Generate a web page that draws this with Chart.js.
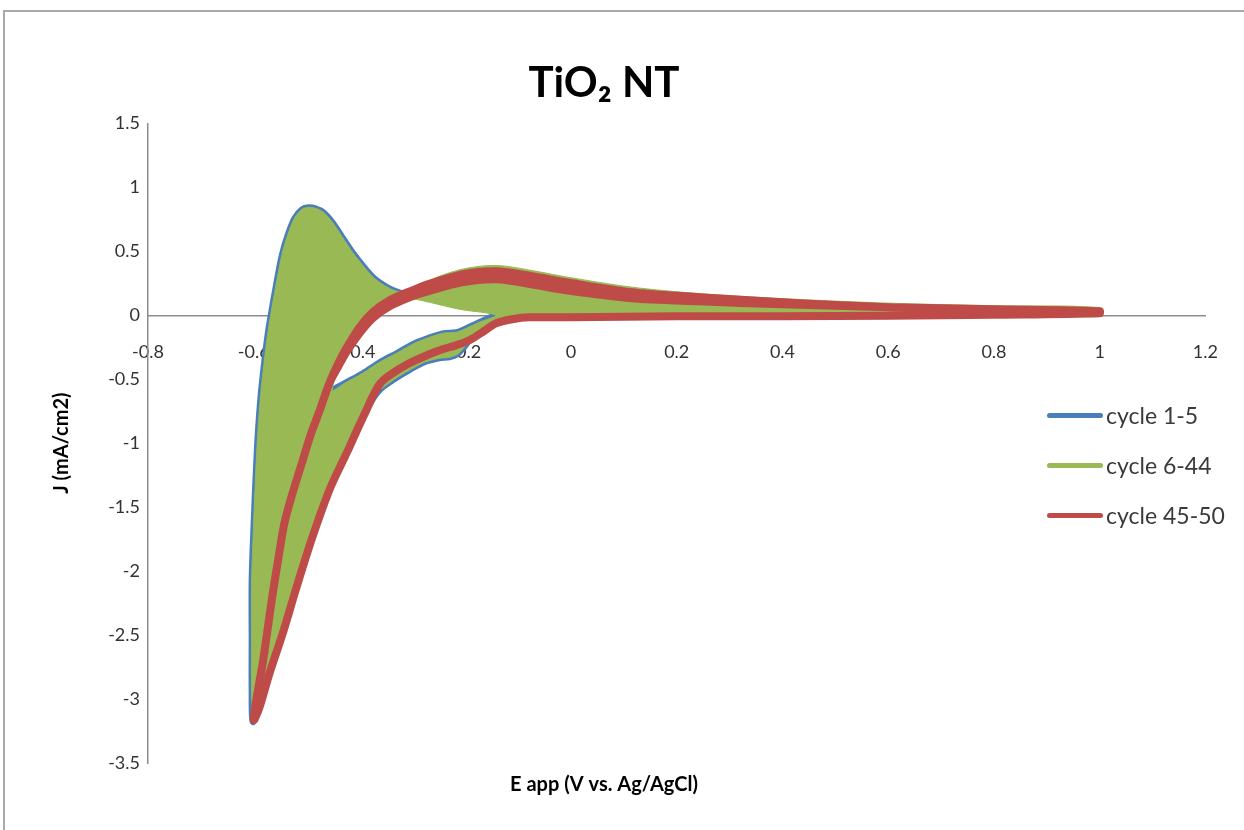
<!DOCTYPE html>
<html>
<head>
<meta charset="utf-8">
<title>TiO2 NT cyclic voltammetry</title>
<script src="https://cdn.jsdelivr.net/npm/chart.js@4.4.0/dist/chart.umd.min.js"></script>
<style>
  html, body { margin: 0; padding: 0; background: #fff; }
  #wrap { position: relative; width: 1244px; height: 830px; overflow: hidden; }
  #frame { position: absolute; left: 3px; top: 10px; width: 1300px; height: 900px; border: 2px solid #a9a9a9; }
  #chart { position: absolute; left: 0; top: 0; }
  #legend { position: absolute; left: 1047px; top: 390px; font-family: Lato, sans-serif; font-size: 23px; color: #3a3a3a; }
  .row { display: flex; align-items: center; height: 50px; white-space: nowrap; }
  .swatch { display: inline-block; width: 56px; height: 5px; border-radius: 3px; margin-right: 3px; }
</style>
</head>
<body>
<div id="wrap">
  <div id="frame"></div>
  <canvas id="chart" width="1244" height="830"></canvas>
  <div id="legend"></div>
</div>
<script>
// series names + colours (excel 2010 defaults)
var seriesNames = ['cycle 1-5', 'cycle 6-44', 'cycle 45-50'];
var seriesColors = ['#4a7ebb', '#98b954', '#be4b48'];

// cycle 1-5 : first cathodic sweep (with the small wave near -0.22 V)
var blueC1E = [1.000, 0.600, 0.200, 0.000, -0.079, -0.111, -0.142, -0.168, -0.189, -0.202, -0.215, -0.230, -0.249, -0.277, -0.306, -0.334, -0.362, -0.387, -0.419, -0.457, -0.489, -0.519, -0.545, -0.570, -0.589, -0.602];
var blueC1J = [0.016, 0.000, -0.008, -0.012, -0.016, -0.028, -0.047, -0.117, -0.180, -0.250, -0.305, -0.328, -0.336, -0.367, -0.430, -0.500, -0.586, -0.742, -1.031, -1.367, -1.734, -2.125, -2.484, -2.797, -3.063, -3.180];
// anodic sweep with the big oxidation peak at -0.5 V
var blueAE = [-0.604, -0.604, -0.604, -0.600, -0.596, -0.592, -0.587, -0.581, -0.574, -0.568, -0.558, -0.547, -0.536, -0.523, -0.509, -0.496, -0.483, -0.468, -0.451, -0.432, -0.413, -0.394, -0.372, -0.347, -0.325, -0.302, -0.250, -0.150, -0.050, 0.100, 0.300, 0.600, 1.000];
var blueAJ = [-2.930, -2.539, -2.070, -1.602, -1.211, -0.898, -0.625, -0.391, -0.156, 0.000, 0.234, 0.469, 0.625, 0.758, 0.828, 0.844, 0.836, 0.805, 0.727, 0.609, 0.492, 0.391, 0.289, 0.219, 0.180, 0.160, 0.150, 0.140, 0.120, 0.090, 0.060, 0.035, 0.020];
// later cathodic sweep of the first cycles
var blueC5E = [0.600, 0.200, 0.000, -0.100, -0.142, -0.174, -0.198, -0.217, -0.243, -0.292, -0.330, -0.362, -0.394, -0.428, -0.451, -0.475, -0.492, -0.509, -0.526, -0.542, -0.553, -0.564, -0.583, -0.600];
var blueC5J = [-0.004, -0.008, -0.008, -0.004, 0.000, -0.055, -0.102, -0.133, -0.141, -0.211, -0.297, -0.367, -0.453, -0.531, -0.586, -0.742, -0.930, -1.156, -1.383, -1.625, -1.891, -2.172, -2.719, -3.164];

// cycle 6-44 : the loops overlap into a solid band, outline + the empty hole inside
var greenOuterE = [-0.602, -0.604, -0.604, -0.604, -0.600, -0.596, -0.592, -0.587, -0.581, -0.574, -0.568, -0.558, -0.547, -0.536, -0.523, -0.509, -0.496, -0.483, -0.468, -0.451, -0.432, -0.413, -0.394, -0.372, -0.347, -0.325, -0.302, -0.268, -0.206, -0.142, -0.074, -0.009, 0.115, 0.242, 0.400, 0.600, 0.800, 1.000, 1.000, 0.800, 0.600, 0.400, 0.200, 0.000, -0.079, -0.111, -0.142, -0.168, -0.189, -0.202, -0.215, -0.230, -0.249, -0.277, -0.306, -0.334, -0.362, -0.377, -0.387, -0.403, -0.419, -0.438, -0.457, -0.489, -0.519, -0.545, -0.570, -0.589];
var greenOuterJ = [-3.180, -2.930, -2.539, -2.070, -1.602, -1.211, -0.898, -0.625, -0.391, -0.156, 0.000, 0.234, 0.469, 0.625, 0.758, 0.828, 0.844, 0.836, 0.805, 0.727, 0.609, 0.492, 0.391, 0.289, 0.219, 0.180, 0.160, 0.270, 0.360, 0.390, 0.350, 0.300, 0.220, 0.170, 0.130, 0.095, 0.075, 0.060, 0.000, -0.004, -0.008, -0.010, -0.012, -0.016, -0.020, -0.035, -0.047, -0.117, -0.180, -0.250, -0.305, -0.328, -0.336, -0.367, -0.430, -0.500, -0.586, -0.652, -0.742, -0.883, -1.031, -1.195, -1.367, -1.734, -2.125, -2.484, -2.797, -3.063];
var greenHoleE = [-0.302, -0.268, -0.211, -0.142, -0.174, -0.198, -0.217, -0.243, -0.292, -0.330, -0.362, -0.394, -0.428, -0.451, -0.440, -0.425, -0.400, -0.375, -0.343];
var greenHoleJ = [0.133, 0.102, 0.047, 0.000, -0.055, -0.102, -0.133, -0.141, -0.211, -0.297, -0.367, -0.453, -0.531, -0.586, -0.420, -0.289, -0.141, -0.023, 0.070];

// cycle 45-50 : cathodic sweep (same for both cycles) and two anodic sweeps
var redLowerE = [1.000, 0.800, 0.600, 0.400, 0.200, 0.000, -0.079, -0.111, -0.142, -0.168, -0.192, -0.217, -0.243, -0.268, -0.306, -0.343, -0.362, -0.377, -0.387, -0.403, -0.419, -0.438, -0.457, -0.489, -0.519, -0.545, -0.570, -0.589, -0.600];
var redLowerJ = [0.016, 0.004, -0.004, -0.008, -0.008, -0.016, -0.016, -0.031, -0.063, -0.133, -0.195, -0.234, -0.266, -0.305, -0.375, -0.469, -0.539, -0.652, -0.742, -0.883, -1.031, -1.195, -1.367, -1.734, -2.125, -2.484, -2.797, -3.063, -3.164];
var redUpperE = [-0.592, -0.583, -0.574, -0.564, -0.553, -0.542, -0.526, -0.509, -0.492, -0.475, -0.457, -0.440, -0.425, -0.400, -0.375, -0.343, -0.300, -0.268, -0.206, -0.142, -0.074, -0.009, 0.115, 0.242, 0.400, 0.600, 0.800, 1.000];
var redUpperJa = [-2.930, -2.719, -2.461, -2.172, -1.891, -1.625, -1.383, -1.156, -0.930, -0.742, -0.531, -0.375, -0.258, -0.094, 0.023, 0.117, 0.195, 0.246, 0.320, 0.344, 0.305, 0.258, 0.180, 0.141, 0.102, 0.063, 0.047, 0.031];
var redUpperJb = [-2.930, -2.719, -2.461, -2.172, -1.891, -1.625, -1.383, -1.156, -0.930, -0.742, -0.531, -0.400, -0.289, -0.141, -0.023, 0.070, 0.148, 0.191, 0.258, 0.281, 0.242, 0.195, 0.133, 0.109, 0.086, 0.063, 0.047, 0.031];

function pts(E, J) {
  return E.map(function (e, i) { return { x: e, y: J[i] }; });
}

var blueData = pts(blueC1E, blueC1J).concat(pts(blueAE, blueAJ), pts(blueC5E, blueC5J));
var greenData = pts(greenOuterE, greenOuterJ).concat([{ x: null, y: null }], pts(greenHoleE, greenHoleJ));
var redData = pts(redLowerE, redLowerJ).concat(pts(redUpperE, redUpperJa), pts(redLowerE, redLowerJ), pts(redUpperE, redUpperJb));

// fills the green band (outline and hole, even-odd) with the line's own bezier points
var bandFill = {
  id: 'bandFill',
  afterDatasetDraw: function (chart, args) {
    var ds = chart.data.datasets[args.index];
    if (!ds.bandColor) return;
    var ctx = chart.ctx;
    var area = chart.chartArea;
    var p = args.meta.data;
    args.meta.dataset.updateControlPoints(area, 'x');
    ctx.save();
    ctx.beginPath();
    ctx.rect(area.left, area.top, area.right - area.left, area.bottom - area.top);
    ctx.clip();
    ctx.beginPath();
    var prev = null;
    for (var i = 0; i < p.length; i++) {
      if (p[i].skip) { ctx.closePath(); prev = null; continue; }
      if (!prev) ctx.moveTo(p[i].x, p[i].y);
      else if (prev.cp2x !== undefined) ctx.bezierCurveTo(prev.cp2x, prev.cp2y, p[i].cp1x, p[i].cp1y, p[i].x, p[i].y);
      else ctx.lineTo(p[i].x, p[i].y);
      prev = p[i];
    }
    ctx.closePath();
    ctx.fillStyle = ds.bandColor;
    ctx.fill('evenodd');
    ctx.restore();
  }
};

function fmt(v) {
  return String(Number(v.toFixed(1)));
}

Chart.defaults.font.family = 'Lato, sans-serif';

var chart = new Chart(document.getElementById('chart'), {
  type: 'scatter',
  data: {
    datasets: [
      { label: seriesNames[0], data: blueData, showLine: true, borderColor: seriesColors[0], borderWidth: 6, order: 3 },
      { label: seriesNames[1], data: greenData, showLine: true, borderColor: seriesColors[1], borderWidth: 1, bandColor: seriesColors[1], spanGaps: false, order: 2 },
      { label: seriesNames[2], data: redData, showLine: true, borderColor: seriesColors[2], borderWidth: 8, order: 1 }
    ]
  },
  options: {
    responsive: false,
    animation: false,
    layout: { padding: { left: 0, right: 36, top: 0, bottom: 0 } },
    elements: {
      point: { radius: 0, hoverRadius: 0 },
      line: { tension: 0.3, borderCapStyle: 'round', borderJoinStyle: 'round' }
    },
    plugins: {
      legend: { display: false },
      tooltip: { enabled: false },
      title: {
        display: true, text: 'TiO\u2082 NT', color: '#000',
        font: { size: 42, weight: 'bold' }, padding: { top: 58, bottom: 15 }
      },
      subtitle: {
        display: true, position: 'bottom', text: 'E app (V vs. Ag/AgCl)', color: '#000',
        font: { size: 20, weight: 'bold' }, padding: { top: 10, bottom: 33 }
      }
    },
    scales: {
      x: {
        type: 'linear', position: { y: 0 }, min: -0.8, max: 1.2,
        grid: { display: false, drawTicks: false },
        border: { color: '#8c8c8c', width: 1.5 },
        ticks: { stepSize: 0.2, padding: 26, autoSkip: false, maxRotation: 0, color: '#333', font: { size: 18 }, callback: fmt }
      },
      y: {
        type: 'linear', min: -3.5, max: 1.5,
        grid: { display: false, drawTicks: false },
        border: { color: '#8c8c8c', width: 1.5 },
        title: { display: true, text: 'J (mA/cm2)', color: '#000', font: { size: 20, weight: 'bold' }, padding: { top: 50, bottom: 0 } },
        ticks: { stepSize: 0.5, padding: 8, color: '#333', font: { size: 18 }, callback: fmt },
        afterFit: function (scale) { scale.width = 148; }
      }
    }
  },
  plugins: [bandFill]
});

// legend sits inside the plot on the right, like the excel one
var legendBox = document.getElementById('legend');
seriesNames.forEach(function (name, i) {
  var row = document.createElement('div');
  row.className = 'row';
  row.innerHTML = '<span class="swatch" style="background:' + seriesColors[i] + '"></span>' + name;
  legendBox.appendChild(row);
});
</script>
</body>
</html>
